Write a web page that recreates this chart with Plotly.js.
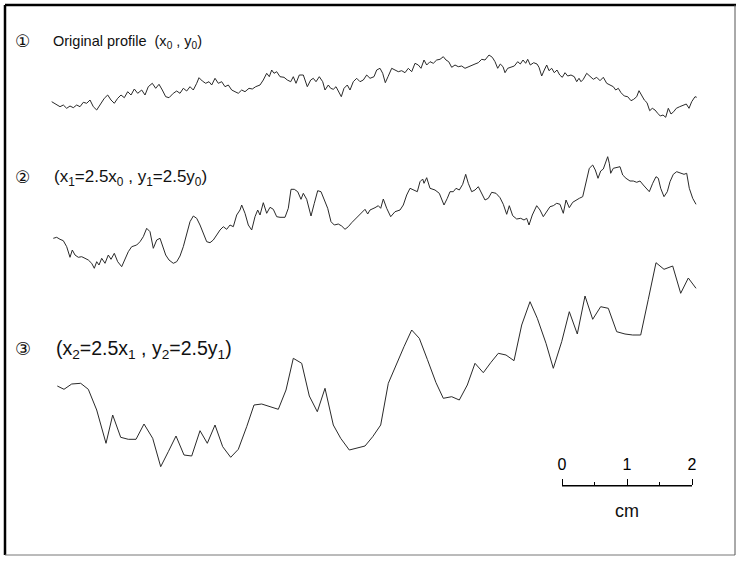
<!DOCTYPE html>
<html>
<head>
<meta charset="utf-8">
<script src="https://cdn.plot.ly/plotly-3.0.1.min.js"></script>
<style>html,body{margin:0;padding:0;background:#fff;}#chart{width:736px;height:565px;}</style>
</head>
<body>
<div id="chart"></div>
<script>
// Profile 1: original profile (x0, y0) — horizontal position and height (figure units, 65 per cm)
const p1x = [1.7,6.7,10,13.3,16.7,20,23.3,26.7,30,33.3,36.7,40,43.3,46.7,50,54.3,57.7,61,64.3,67.7,71,74.3,77.7,81,84.3,87.7,91.7,95,98.3,102.3,105.7,109,112.3,115.7,119,123.3,126.7,130,133.3,136.7,140,143.3,146.7,149,152.3,155.7,159,161.7,165,168.3,171.7,175,178.3,181.7,185,188.3,191.7,195,199,202.3,205.7,210,213.3,216.7,219.3,221.7,224,226.7,230,234,237.3,240.7,243.3,246,249.3,253.3,257.3,260.7,263.3,266,269.3,272.7,275,278.3,280.7,283.3,286,288.3,291.3,294,297.3,300,303.3,306.7,310,313.3,316.7,320,324,326.7,330,332.7,335.3,338,341.7,345,348.3,351.7,355,358.3,361.7,365,368.3,371,374,376.7,380,383.3,386.7,390,393.3,396,398.7,401.7,405,408.3,411.7,415,418.3,421.7,425,428.3,431.7,435,439,442.3,445,447.7,450.3,453,455,457.7,461,464.3,467.7,470.3,473,475.7,477.7,480.3,483.7,487,489,491.7,494.3,496.7,499,501.7,504.3,507,509.7,512.3,515,517.7,521,524.3,526.7,529,531,533.3,536.7,540,543.3,546.7,550,553.3,556.7,560,563.3,565.7,568.3,571,574.3,577.7,581,583.7,586.7,589,591.7,594.3,597,599.7,602.3,605,607.7,610.3,613,615.7,618.3,621,623.7,626.3,629.7,633,636.3,639,641.7,645,646.7];
const p1y = [18.3,15.7,13.3,15,11.7,14,12.3,15,13.3,17.7,16.7,20,13.3,10,15,21.7,25,20,16.7,21.7,25,22.3,28.3,25,31,26.7,30,25,33.3,36.7,31.7,35.7,30,23.3,22.3,26.7,29,26.7,31.7,29,33.3,30,36.7,42.3,39,36.7,38.3,35,41.7,36.7,38.3,33.3,35,30,28.3,26.7,30,28.3,31.7,31,33.3,35,40,46.7,43.3,50,46.7,48.3,43.3,42.7,40,38.3,43.3,36.7,45,45,33.3,40,41.7,38.3,43.3,38.3,30,35,31.7,30.7,33.3,28.3,23.3,31.7,35,30,38.3,41.7,38.3,40,45,41.7,43.3,50,51.7,46.7,37.3,43.3,51.7,50,48.3,49.3,47.3,51.7,48.3,56.7,55,51.7,60,55,58.3,56.7,60,60.7,63.3,60,58.3,52.7,55,53.3,54,51.7,53.3,55,56,57.3,60.7,60,65,62.7,58.3,51.7,56,53.3,47.3,51.7,52.7,54,58.3,56,60,56.7,60.7,55,57.3,56,52.7,44,50,55,49.3,51.7,47.3,50,45,42.7,47.3,44,45,43.3,38.3,41.7,38.3,40.7,46.7,44,40.7,42.7,39.3,42.7,36.7,35,33.3,30,31.7,27.3,24,23.3,19.3,20.7,23.3,29.3,25,20,17.3,9.3,11.7,10,6.7,4,5,2.7,11.7,6,8.3,11.7,13.3,15,16,11.7,18.3,23.3,22.7];

// Profile 2: (x1 = 2.5 x0, y1 = 2.5 y0)
const p2x = [3.3,6.7,10,13.3,16.7,20,22.3,25,28.3,31.7,35,38.3,41.7,44.3,46.7,49,51.7,55,58.3,61,64.3,67.7,71.7,75,78.3,81.7,86.7,90,93.3,96.7,100,103.3,106.7,110,112.3,115.7,119,123.3,126.7,130,133.3,136.7,140,143.3,146.7,150,153.3,156.7,160,163.3,166.7,170,173.3,176.7,180,183.3,186.7,190,191.7,195,198.3,201.7,205,207.7,210,213.3,216.7,220,223.3,226.7,230,235,238.3,241,244.3,247.7,251,253.3,256.7,261,264.3,267.7,271,274.3,277.7,281,284.3,288.3,291.7,295,298.3,301.7,305,308.3,311.7,315,317.7,320,325,328.3,330.7,333.3,336.7,340.7,345,350,353.3,356.7,360,363.3,367.3,370,372.7,374,376.7,380,385,389.3,391.7,394,397.3,400,403.3,406,409.3,412.7,415.7,418.3,421.7,425,428.3,431.7,435,438.3,441.7,446,450,453.3,456.7,459.3,462.7,466.7,470.7,474,476.7,479,482.3,486.7,490,493.3,496.7,500,503.3,506.7,510,513.3,516,519.3,522.7,526,529.3,532.7,536,539.3,542.7,545.3,548,550.7,553.3,556,557.7,559.3,560.7,563.3,566.7,570,572.7,576,580,583.3,586.7,590,593.3,596.7,599.3,602.7,606,608.3,610.7,614,617.3,620,623.3,626.7,630.7,634,636.7,639.3,642.7,646];
const p2y = [31.7,32.7,30.7,29.3,23.3,12.7,20,15,12.7,13.3,11.7,10,6.7,1.7,8.3,5,11.7,6.7,15,10.7,16.7,8.3,3.3,10,18.3,23.3,25,28.3,33.3,41.7,38.3,21.7,30,31.7,25,15,10,6.7,8.3,14,23.3,36.7,48.3,54,51.7,45,36.7,28.3,27.3,30,35,40,43.3,40.7,45,43.3,55,60,65,56.7,45,40,53.3,60,55,67.3,56.7,62.7,60.7,53.3,52.7,52.7,61.7,80.7,80.7,78.3,70.7,76.7,70.7,54,66.7,79.3,78.3,70,61.7,48.3,45,46,44,40.7,43.3,47.3,50.7,53.3,57.3,60.7,56,60,62.3,64.3,61.7,71,61.7,53.3,58.3,60,65,75,81.7,80,78.3,88.3,91,86.7,92.3,81.7,80,76.7,70,65,71.7,78.3,78.3,81.7,80,85.7,95.7,86.7,78.3,80,83.3,75.7,70,71.7,77.7,76.7,72.3,65.7,55.7,64.3,54.3,51,51.7,50,51.7,45,55,64.3,60,53.3,58.3,63.3,64.3,66.7,65.7,56.7,70,62.3,67.7,70,71.7,73.3,86.7,101.7,105,100,91.7,99,101,108.3,113.3,106.7,96.7,101.7,102.3,103.3,95,91.7,89,89,87.7,89,85,81.7,78.3,86.7,93.3,91.7,81.7,73.3,78.3,88.3,95.7,98.3,96.7,95.7,96.7,81.7,71.7,65.7];

// Profile 3: (x2 = 2.5 x1, y2 = 2.5 y1)
const p3x = [7.3,14,21.7,30.7,38.3,46.7,56,62.7,70.7,78.3,86,94,102.7,110.7,118.3,126,134,141.7,150,157.3,165,172.7,180.7,188.3,196.7,204,211.7,220,228.3,236,243.3,251.7,259.3,267.3,275,283.3,290.7,299.3,307.3,315,322.7,330.7,338.3,346,354,361.7,369.3,377.3,386,393.3,401.7,409.3,417.3,425,433.3,440.7,448.3,456,464,471.7,480,487.3,496,503.3,511.7,519.3,527.3,535,542.7,550.7,558.3,566.7,575,582.7,590.7,598.3,606,614,622.7,630.7,638.3,646];
const p3y = [84,80.7,86,86.7,80.7,60,26.7,55,32.7,30.7,30.7,46,31.7,3.3,18.3,34,15,14,39.3,26.7,45,23.3,12.7,20.7,43.3,65,66,63.3,60.7,80,111.7,106.7,74,58.3,81.7,45,31.7,20,21.7,24,33.3,45,86.7,105,123.3,140,131.7,110.7,87.3,71.7,73.3,70,85,106.7,97.3,107.3,116.7,115,109.3,145,168.3,151.7,126.7,101.7,128.3,158.3,136,174,150.7,163.3,161.7,138.3,136,135,135,170.7,207.3,200.7,204,176.7,192,181.7];

// Scale bar (cm)
const scaleTicks = [0, 1, 2];
const scaleLabels = ['0', '1', '2'];

const FAM = 'Liberation Sans, Arial, DejaVu Sans, sans-serif';
const lineStyle = {color: '#2a2a2a', width: 1};

const traces = [
  {x: p1x, y: p1y, xaxis: 'x', yaxis: 'y', mode: 'lines', line: lineStyle, hoverinfo: 'skip'},
  {x: p2x, y: p2y, xaxis: 'x', yaxis: 'y2', mode: 'lines', line: lineStyle, hoverinfo: 'skip'},
  {x: p3x, y: p3y, xaxis: 'x', yaxis: 'y3', mode: 'lines', line: lineStyle, hoverinfo: 'skip'},
  {x: scaleTicks, y: [0,0,0], xaxis: 'x2', yaxis: 'y4', mode: 'lines', line: {color: '#000', width: 1}, hoverinfo: 'skip'}
];

const hidden = {visible: false, fixedrange: true};
const H = 565, W = 736;
function ann(text, px, py, size, fam, anchor) {
  return {text: text, xref: 'paper', yref: 'paper', x: px / W, y: 1 - py / H,
    xanchor: anchor || 'left', yanchor: 'middle', showarrow: false,
    font: {family: fam || FAM, size: size, color: '#111'}};
}
const layout = {
  width: W, height: H,
  margin: {l: 0, r: 0, t: 0, b: 0},
  paper_bgcolor: '#fff', plot_bgcolor: 'rgba(0,0,0,0)',
  showlegend: false,
  xaxis: Object.assign({range: [-50, 686], domain: [0, 1]}, hidden),
  yaxis: Object.assign({range: [-445, 120], domain: [0, 1]}, hidden),
  yaxis2: Object.assign({range: [-295, 270], overlaying: 'y'}, hidden),
  yaxis3: Object.assign({range: [-95, 470], overlaying: 'y'}, hidden),
  xaxis2: {
    domain: [562 / W, 692 / W], anchor: 'y4', range: [0, 2], side: 'top',
    showline: true, linecolor: '#000', linewidth: 1,
    ticks: 'outside', ticklen: 6, tickcolor: '#000', tickwidth: 1,
    tickvals: scaleTicks, ticktext: scaleLabels, ticklabelstandoff: 3,
    minor: {tickvals: [0.5, 1.5], ticks: 'outside', ticklen: 3, tickcolor: '#000', tickwidth: 1},
    showgrid: false, zeroline: false, fixedrange: true,
    tickfont: {family: FAM, size: 16, color: '#000'}
  },
  yaxis4: {domain: [1 - 500 / H, 1 - 486 / H], anchor: 'x2', range: [-1, 0], visible: false, fixedrange: true},
  shapes: [
    {type: 'line', xref: 'paper', yref: 'paper', x0: 5 / W, x1: 5 / W, y0: 1 - 5 / H, y1: 1 - 555 / H, line: {color: '#000', width: 2.5}},
    {type: 'line', xref: 'paper', yref: 'paper', x0: 5 / W, x1: 1, y0: 1 - 5 / H, y1: 1 - 5 / H, line: {color: '#000', width: 2.5}},
    {type: 'line', xref: 'paper', yref: 'paper', x0: 5 / W, x1: 735 / W, y0: 1 - 555 / H, y1: 1 - 555 / H, line: {color: '#777', width: 1}},
    {type: 'line', xref: 'paper', yref: 'paper', x0: 735 / W, x1: 735 / W, y0: 1 - 5 / H, y1: 1 - 555 / H, line: {color: '#555', width: 1}}
  ],
  annotations: [
    ann('①', 13, 41, 17, 'DejaVu Sans, sans-serif'),
    ann('Original profile  (x<sub>0</sub> , y<sub>0</sub>)', 51, 42, 14.5),
    ann('②', 13, 177, 17, 'DejaVu Sans, sans-serif'),
    ann('(x<sub>1</sub>=2.5x<sub>0</sub> , y<sub>1</sub>=2.5y<sub>0</sub>)', 52, 178, 17),
    ann('③', 13, 348, 18, 'DejaVu Sans, sans-serif'),
    ann('(x<sub>2</sub>=2.5x<sub>1</sub> , y<sub>2</sub>=2.5y<sub>1</sub>)', 54, 349, 19.5),
    ann('cm', 627, 511, 18, FAM, 'center')
  ]
};

Plotly.newPlot('chart', traces, layout, {staticPlot: true, displayModeBar: false});
</script>
</body>
</html>
